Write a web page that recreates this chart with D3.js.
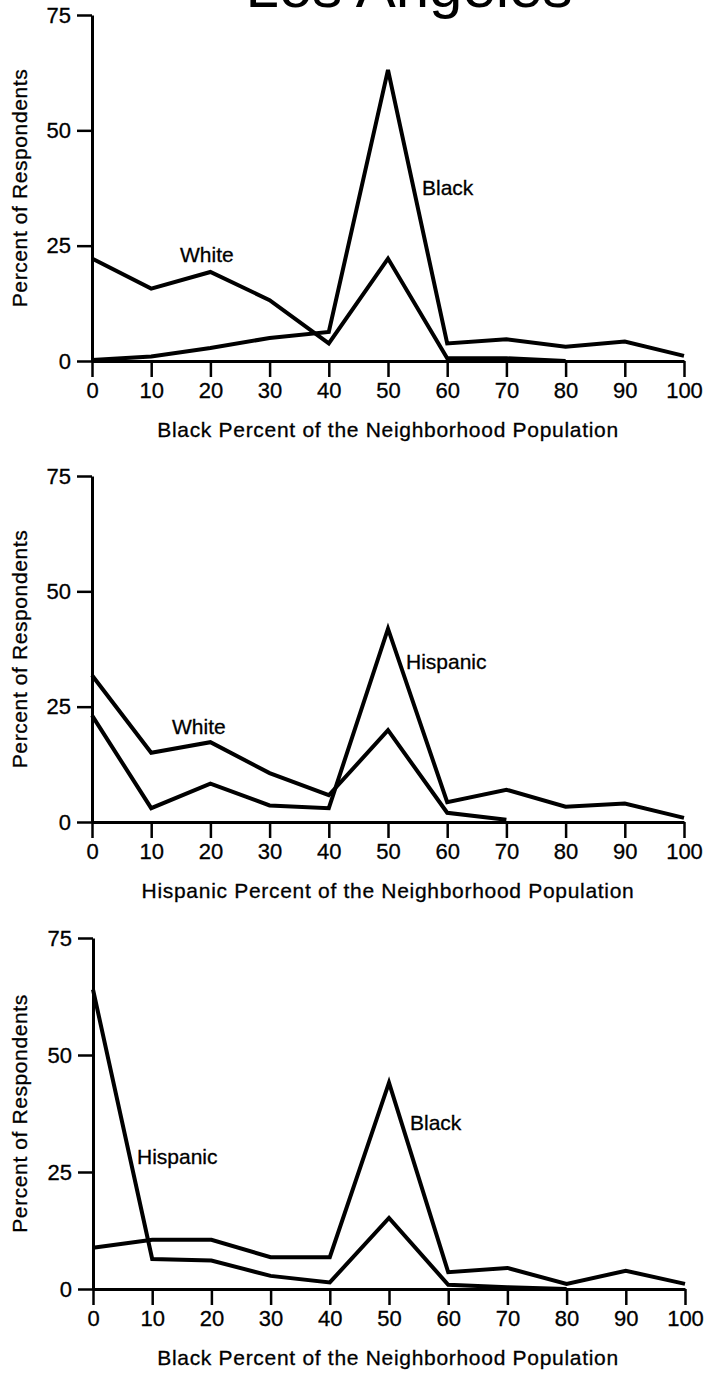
<!DOCTYPE html>
<html>
<head>
<meta charset="utf-8">
<script src="https://cdn.jsdelivr.net/npm/d3@7"></script>
<style>
  body { margin: 0; background: #fff; }
  svg { display: block; font-family: "Liberation Sans", Arial, sans-serif; }
  .tick text { font-size: 21px; fill: #000; }
</style>
</head>
<body>
<svg width="709" height="1373"></svg>
<script>
// x categories (neighborhood percent) and y ticks
const categories = [0, 10, 20, 30, 40, 50, 60, 70, 80, 90, 100];
const yTicks = [0, 25, 50, 75];

// panel 1: Black percent of the neighborhood
const p1Black = [0.2, 1, 2.8, 5, 6.3, 63.1, 3.8, 4.7, 3.1, 4.2, 1.1];
const p1White = [22.2, 15.7, 19.3, 13.2, 3.8, 22.2, 0.6, 0.6, 0];

// panel 2: Hispanic percent of the neighborhood
const p2Hispanic = [23.1, 3, 8.3, 3.6, 3.0, 41.9, 4.3, 7, 3.3, 4, 0.9];
const p2White = [31.8, 15, 17.3, 10.6, 5.8, 19.9, 2, 0.5];

// panel 3: Black percent of the neighborhood
const p3Black = [8.8, 10.5, 10.5, 6.8, 6.8, 44.1, 3.6, 4.5, 1.1, 3.9, 1.1];
const p3Hispanic = [64, 6.4, 6.1, 2.8, 1.4, 15.2, 0.9, 0.4, 0];

const xTitles = [
  'Black Percent of the Neighborhood Population',
  'Hispanic Percent of the Neighborhood Population',
  'Black Percent of the Neighborhood Population'
];

const svg = d3.select('svg');

// the title is cropped at the top edge in the original scan
svg.append('text')
  .attr('x', 409).attr('y', 7)
  .attr('text-anchor', 'middle')
  .style('font-size', '60px')
  .text('Los Angeles');

const panels = [
  { top: 15, bottom: 361, left: 92, right: 684, series: [p1Black, p1White],
    labels: [{ t: 'Black', x: 422, y: 195 }, { t: 'White', x: 180, y: 262 }] },
  { top: 476, bottom: 822, left: 92, right: 684, series: [p2Hispanic, p2White],
    labels: [{ t: 'Hispanic', x: 406, y: 669 }, { t: 'White', x: 172, y: 734 }] },
  { top: 938, bottom: 1289, left: 93, right: 685, series: [p3Black, p3Hispanic],
    labels: [{ t: 'Black', x: 410, y: 1130 }, { t: 'Hispanic', x: 137, y: 1164 }] }
];

panels.forEach((p, i) => {
  const x = d3.scaleLinear().domain([0, 100]).range([p.left, p.right]);
  const y = d3.scaleLinear().domain([0, 75]).range([p.bottom, p.top]);
  const g = svg.append('g');

  const xAxis = g.append('g')
    .attr('transform', `translate(0,${p.bottom})`)
    .call(d3.axisBottom(x).tickValues(categories).tickSize(16).tickSizeOuter(0).tickPadding(5));
  const yAxis = g.append('g')
    .attr('transform', `translate(${p.left},0)`)
    .call(d3.axisLeft(y).tickValues(yTicks).tickSize(15).tickSizeOuter(0).tickPadding(6));

  [xAxis, yAxis].forEach(a => {
    a.select('.domain').attr('stroke', '#000').attr('stroke-width', 3);
    a.selectAll('.tick line').attr('stroke', '#000').attr('stroke-width', 2.5);
    a.selectAll('.tick text').attr('fill', '#000')
      .style('font-size', '22px')
      .attr('stroke', '#000').attr('stroke-width', 0.3);
  });

  const line = d3.line()
    .x((d, j) => x(categories[j]))
    .y(d => y(d));

  p.series.forEach(s => {
    g.append('path')
      .datum(s)
      .attr('fill', 'none')
      .attr('stroke', '#000')
      .attr('stroke-width', 4)
      .attr('stroke-linejoin', 'miter')
      .attr('d', line);
  });

  p.labels.forEach(l => {
    g.append('text')
      .attr('x', l.x).attr('y', l.y)
      .style('font-size', '21px')
      .attr('stroke', '#000').attr('stroke-width', 0.3)
      .text(l.t);
  });

  g.append('text')
    .attr('x', 388).attr('y', p.bottom + 76)
    .attr('text-anchor', 'middle')
    .style('font-size', '21px')
    .style('letter-spacing', '0.7px')
    .attr('stroke', '#000').attr('stroke-width', 0.3)
    .text(xTitles[i]);

  g.append('text')
    .attr('transform', `translate(27,${(p.top + p.bottom) / 2}) rotate(-90)`)
    .attr('text-anchor', 'middle')
    .style('font-size', '21px')
    .style('letter-spacing', '0.6px')
    .attr('stroke', '#000').attr('stroke-width', 0.3)
    .text('Percent of Respondents');
});
</script>
</body>
</html>
